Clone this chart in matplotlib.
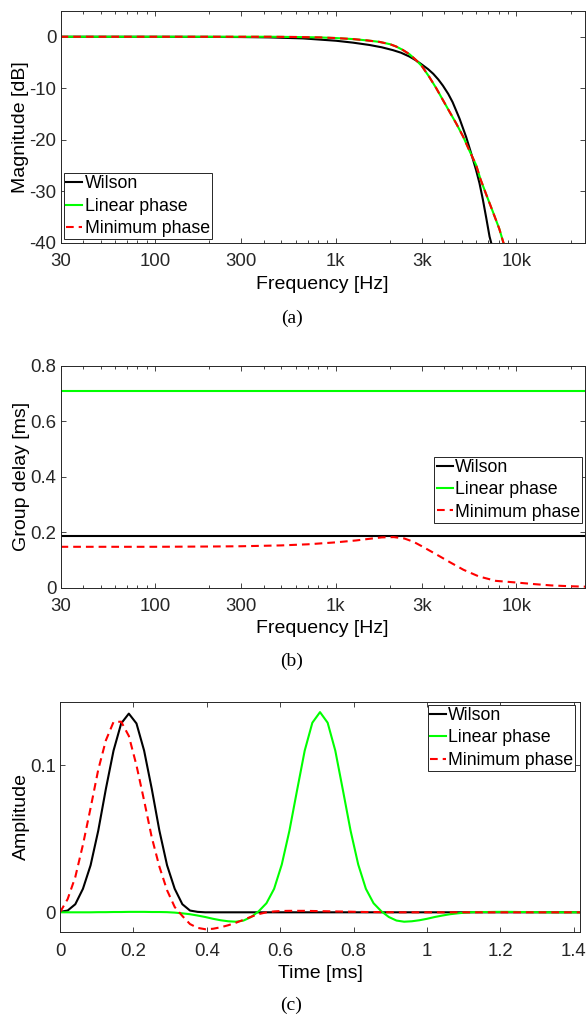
import matplotlib
matplotlib.use("Agg")
import matplotlib.pyplot as plt
import numpy as np

plt.rcParams['font.family'] = ['Liberation Sans', 'DejaVu Sans']
plt.rcParams['axes.unicode_minus'] = False

# (a) magnitude responses
freq_wilson = [30, 100, 200, 300, 431, 658, 1007, 1250, 1539, 1800, 2075, 2300, 2563,
               2800, 3000, 3250, 3470, 3700, 3925, 4200, 4440, 4850, 5280, 5620, 5990,
               6250, 6520, 6810, 7110, 7270, 7400]
mag_wilson = [0, -0.01, -0.03, -0.06, -0.13, -0.32, -0.78, -1.15, -1.6, -2.05, -2.6,
              -3.1, -3.85, -4.65, -5.4, -6.3, -7.2, -8.3, -9.5, -11.1, -12.7, -15.9,
              -19.5, -22.6, -25.9, -28.4, -31.5, -35.1, -38.8, -40.1, -41.5]

freq_fir = [30, 100, 300, 431, 600, 815, 1000, 1243, 1500, 1748, 2000, 2164, 2350,
            2563, 2780, 3000, 3297, 3605, 3925, 4275, 4660, 5080, 5480, 5990, 6325,
            6810, 7400, 8050, 8450, 8800]
mag_fir = [0, 0, 0, 0, -0.05, -0.13, -0.25, -0.45, -0.72, -1.0, -1.45, -1.9, -2.55,
           -3.4, -4.5, -5.7, -7.8, -10.0, -12.3, -14.6, -16.9, -19.4, -22.0, -24.9,
           -27.6, -30.6, -33.9, -37.3, -39.8, -41.5]

# (b) group delay [ms]
gd_wilson = 0.1875
gd_linear = 0.7083
freq_gd = [30, 100, 200, 300, 500, 700, 1000, 1300, 1500, 1800, 2100, 2400, 2700,
           3000, 3600, 4300, 5100, 6200, 7700, 10000, 12700, 15600, 20000, 24000]
gd_minimum = [0.147, 0.147, 0.148, 0.149, 0.152, 0.156, 0.163, 0.170, 0.175, 0.181,
              0.182, 0.177, 0.165, 0.149, 0.120, 0.091, 0.064, 0.040, 0.024, 0.018,
              0.012, 0.0075, 0.0045, 0.003]

# (c) impulse responses, fs = 48 kHz, 69 samples
fs_khz = 48.0
ir_wilson = [0.0003, 0.0012, 0.0055, 0.0160, 0.0320, 0.0555, 0.0840, 0.1100, 0.1285,
             0.1352, 0.1285, 0.1100, 0.0840, 0.0555, 0.0320, 0.0160, 0.0055, 0.0012,
             0.0003] + [0.0] * 50
ir_linear = [0, 0, 0, 0, 0, 0.0001, 0.0001, 0.0002, 0.0002, 0.0003, 0.0003, 0.0003,
             0.0002, 0.0002, 0.0001, -0.0002, -0.0007, -0.0013, -0.0022, -0.0032,
             -0.0044, -0.0054, -0.0061, -0.0064, -0.0056, -0.0032, 0.0008, 0.0062,
             0.0160, 0.0325, 0.0555, 0.0830, 0.1100, 0.1290, 0.1362, 0.1290, 0.1100,
             0.0830, 0.0555, 0.0325, 0.0160, 0.0062, 0.0008, -0.0032, -0.0056,
             -0.0064, -0.0061, -0.0054, -0.0044, -0.0032, -0.0022, -0.0013, -0.0007,
             -0.0002, 0.0001, 0.0002, 0.0002, 0.0003, 0.0003, 0.0003, 0.0002, 0.0002,
             0.0001, 0.0001, 0, 0, 0, 0, 0]
ir_minimum = [0.0, 0.009, 0.024, 0.046, 0.071, 0.097, 0.117, 0.1295, 0.1297, 0.120,
              0.100, 0.076, 0.051, 0.031, 0.015, 0.0036, -0.0025, -0.0080, -0.0106,
              -0.0115, -0.0112, -0.0102, -0.0088, -0.0071, -0.0051, -0.0030, -0.0012,
              0.0000, 0.0006, 0.0009, 0.0010, 0.0010, 0.0010, 0.0009, 0.0008, 0.0007,
              0.0006, 0.0005, 0.0004, 0.0003, 0.0002, 0.0002, 0.0001, 0.0001] + [0.0] * 25

labels = ["Wilson", "Linear phase", "Minimum phase"]
freq_ticks = [30, 100, 300, 1000, 3000, 10000]
freq_ticklabels = ["30", "100", "300", "1k", "3k", "10k"]

fig = plt.figure(figsize=(5.86, 10.17), dpi=100)
W, H = 586.0, 1017.0
TICK_FS = 13.4
LABEL_FS = 14
DASH = (0, (3.7, 2.4))


def make_axes(x0, x1, ytop, ybot):
    ax = fig.add_axes([x0 / W, 1 - ybot / H, (x1 - x0) / W, (ybot - ytop) / H])
    for s in ax.spines.values():
        s.set_color('#262626')
        s.set_linewidth(0.7)
    ax.tick_params(which='both', direction='in', top=True, right=True,
                   colors='#262626', labelsize=TICK_FS, width=0.6)
    ax.tick_params(which='major', length=3.5)
    ax.tick_params(which='minor', length=2.2)
    ax.tick_params(axis='x', which='major', pad=7.5)
    ax.tick_params(axis='y', which='major', pad=3)
    return ax


def style_legend(ax, **kw):
    leg = ax.legend(labels, fontsize=12.8, fancybox=False, framealpha=1,
                    edgecolor='#262626', handlelength=0.9, handletextpad=0.12,
                    labelspacing=0.3, borderpad=0.12, borderaxespad=0, **kw)
    leg.get_frame().set_linewidth(0.7)
    return leg


def freq_axis(ax):
    ax.set_xscale('log')
    ax.set_xlim(30, 24000)
    ax.set_xticks(freq_ticks)
    ax.set_xticklabels(freq_ticklabels)
    ax.xaxis.set_minor_locator(matplotlib.ticker.LogLocator(base=10, subs=np.arange(1, 10)))
    ax.xaxis.set_minor_formatter(matplotlib.ticker.NullFormatter())
    ax.set_xlabel("Frequency [Hz]", fontsize=LABEL_FS, labelpad=4)


# (a)
ax1 = make_axes(60.5, 585, 11, 242.7)
ax1.plot(freq_wilson, mag_wilson, color='k', lw=1.5)
ax1.plot(freq_fir, mag_fir, color='#00ff00', lw=1.5)
ax1.plot(freq_fir, mag_fir, color='#ff0000', lw=1.5, ls=DASH)
freq_axis(ax1)
ax1.set_ylim(-40, 5)
ax1.set_yticks([0, -10, -20, -30, -40])
ax1.set_ylabel("Magnitude [dB]", fontsize=LABEL_FS, labelpad=0)
style_legend(ax1, loc='lower left', bbox_to_anchor=(0.0072, 0.0147))

# (b)
ax2 = make_axes(60.5, 585, 366, 587.5)
ax2.plot([30, 24000], [gd_wilson, gd_wilson], color='k', lw=1.5)
ax2.plot([30, 24000], [gd_linear, gd_linear], color='#00ff00', lw=1.5)
ax2.plot(freq_gd, gd_minimum, color='#ff0000', lw=1.5, ls=DASH)
freq_axis(ax2)
ax2.set_ylim(0, 0.8)
ax2.set_yticks([0, 0.2, 0.4, 0.6, 0.8])
ax2.set_yticklabels(["0", "0.2", "0.4", "0.6", "0.8"])
ax2.set_ylabel("Group delay [ms]", fontsize=LABEL_FS, labelpad=0)
style_legend(ax2, loc='upper right', bbox_to_anchor=(0.9943, 0.5905))

# (c)
ax3 = make_axes(60, 580, 701.7, 932.3)
t = np.arange(len(ir_linear)) / fs_khz
ax3.plot(t, ir_wilson, color='k', lw=1.5)
ax3.plot(t, ir_linear, color='#00ff00', lw=1.5)
ax3.plot(t, ir_minimum, color='#ff0000', lw=1.5, ls=DASH)
ax3.set_xlim(0, t[-1])
ax3.set_ylim(-0.0136, 0.1433)
ax3.set_xticks([0, 0.2, 0.4, 0.6, 0.8, 1.0, 1.2, 1.4])
ax3.set_xticklabels(["0", "0.2", "0.4", "0.6", "0.8", "1", "1.2", "1.4"])
ax3.set_yticks([0, 0.1])
ax3.set_yticklabels(["0", "0.1"])
ax3.set_xlabel("Time [ms]", fontsize=LABEL_FS, labelpad=4)
ax3.set_ylabel("Amplitude", fontsize=LABEL_FS, labelpad=0)
style_legend(ax3, loc='upper right', bbox_to_anchor=(0.9913, 0.9857))

# captions
for cap, y in [("(a)", 318), ("(b)", 661.7), ("(c)", 1005)]:
    fig.text(291.5 / W, 1 - y / H, cap, ha='center', va='center',
             fontsize=14, family=['Liberation Serif', 'DejaVu Serif'])

fig.savefig("out.png", dpi=100)
